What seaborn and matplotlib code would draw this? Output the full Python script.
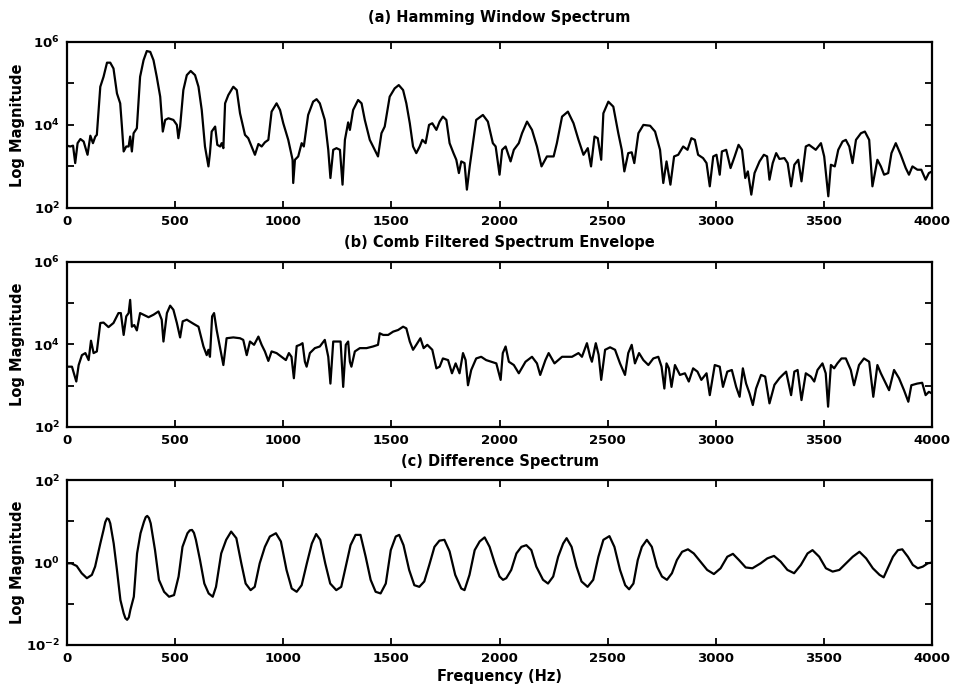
import numpy as np
import pandas as pd
import matplotlib
matplotlib.use("Agg")
import matplotlib.pyplot as plt
import seaborn as sns

# ---- (a) Hamming window spectrum: frequency (Hz) and log10 magnitude ----
a_freq = [0, 15, 28, 38, 49, 62, 77, 95, 108, 120, 131, 138, 154, 169, 185, 200, 215, 231, 246, 254,
          262, 274, 285, 292, 300, 308, 323, 338, 354, 369, 385, 400, 415, 431, 443, 454, 469, 492, 508,
          515, 523, 538, 554, 572, 592, 608, 623, 638, 654, 661, 669, 685, 695, 708, 715, 723, 731, 746,
          769, 785, 800, 823, 838, 869, 885, 900, 915, 931, 946, 969, 985, 1000, 1023, 1043, 1046, 1054,
          1069, 1085, 1095, 1115, 1138, 1154, 1169, 1192, 1208, 1218, 1231, 1246, 1262, 1274, 1285, 1300,
          1308, 1323, 1346, 1362, 1377, 1400, 1423, 1438, 1454, 1469, 1492, 1515, 1534, 1554, 1569, 1585,
          1600, 1615, 1631, 1643, 1658, 1674, 1689, 1708, 1723, 1738, 1754, 1769, 1787, 1800, 1812, 1823,
          1838, 1849, 1862, 1877, 1892, 1923, 1946, 1969, 1982, 2000, 2012, 2028, 2051, 2066, 2089, 2104,
          2127, 2150, 2173, 2194, 2219, 2250, 2265, 2289, 2316, 2342, 2365, 2388, 2408, 2423, 2439, 2454,
          2470, 2480, 2503, 2526, 2549, 2565, 2577, 2595, 2611, 2623, 2642, 2665, 2696, 2719, 2742, 2757,
          2772, 2790, 2807, 2826, 2849, 2869, 2887, 2903, 2918, 2941, 2957, 2972, 2988, 3003, 3018, 3028,
          3048, 3068, 3087, 3105, 3121, 3136, 3148, 3164, 3179, 3202, 3222, 3237, 3248, 3263, 3279, 3294,
          3317, 3332, 3348, 3363, 3381, 3396, 3416, 3431, 3462, 3486, 3501, 3520, 3532, 3550, 3566, 3586,
          3601, 3617, 3632, 3648, 3671, 3689, 3709, 3724, 3747, 3763, 3778, 3797, 3812, 3832, 3855, 3878,
          3893, 3909, 3932, 3950, 3970, 3985, 4000]
a_logmag = [3.50, 3.48, 3.50, 3.08, 3.56, 3.66, 3.60, 3.28, 3.74, 3.56, 3.72, 3.76, 4.92, 5.16, 5.50, 5.50,
            5.36, 4.76, 4.52, 3.96, 3.36, 3.48, 3.48, 3.72, 3.36, 3.80, 3.92, 5.16, 5.56, 5.78, 5.76, 5.56,
            5.16, 4.68, 3.84, 4.12, 4.16, 4.12, 4.00, 3.68, 3.96, 4.84, 5.20, 5.30, 5.20, 4.92, 4.36, 3.48,
            3.00, 3.32, 3.84, 3.96, 3.52, 3.48, 3.56, 3.44, 4.52, 4.72, 4.92, 4.84, 4.28, 3.76, 3.68, 3.28,
            3.54, 3.48, 3.58, 3.64, 4.32, 4.52, 4.36, 4.04, 3.64, 3.16, 2.60, 3.16, 3.24, 3.56, 3.48, 4.24,
            4.56, 4.62, 4.52, 4.12, 3.40, 2.72, 3.40, 3.44, 3.40, 2.56, 3.64, 4.06, 3.88, 4.36, 4.60, 4.52,
            4.12, 3.64, 3.40, 3.24, 3.80, 3.96, 4.68, 4.88, 4.96, 4.84, 4.52, 4.04, 3.48, 3.32, 3.48, 3.64,
            3.56, 4.00, 4.04, 3.88, 4.08, 4.20, 4.12, 3.56, 3.32, 3.16, 2.84, 3.12, 3.08, 2.44, 3.00, 3.56,
            4.12, 4.24, 4.08, 3.56, 3.48, 2.80, 3.40, 3.48, 3.12, 3.40, 3.56, 3.80, 4.08, 3.88, 3.48, 3.00,
            3.24, 3.24, 3.56, 4.20, 4.32, 4.04, 3.64, 3.28, 3.44, 3.00, 3.72, 3.68, 3.16, 4.28, 4.56, 4.44,
            3.80, 3.40, 2.88, 3.32, 3.34, 3.08, 3.80, 4.00, 3.98, 3.84, 3.40, 2.60, 3.12, 2.56, 3.24, 3.28,
            3.48, 3.40, 3.68, 3.64, 3.28, 3.20, 3.08, 2.52, 3.24, 3.28, 2.80, 3.36, 3.40, 2.96, 3.24, 3.52,
            3.40, 2.72, 2.88, 2.32, 2.84, 3.12, 3.28, 3.24, 2.68, 3.08, 3.32, 3.18, 3.20, 3.08, 2.52, 3.04,
            3.16, 2.64, 3.48, 3.52, 3.40, 3.56, 3.24, 2.28, 3.04, 3.00, 3.40, 3.60, 3.64, 3.48, 3.08, 3.64,
            3.80, 3.84, 3.64, 2.52, 3.16, 3.00, 2.80, 2.84, 3.32, 3.56, 3.28, 2.96, 2.80, 3.00, 2.92, 2.92,
            2.68, 2.84, 2.88]

# ---- (b) comb filtered spectrum envelope ----
b_freq = [0, 23, 43, 54, 69, 85, 100, 111, 123, 138, 154, 169, 192, 215, 238, 249, 262, 274, 285, 292,
          300, 311, 323, 338, 354, 377, 400, 423, 438, 446, 462, 477, 492, 508, 523, 535, 554, 585, 608,
          631, 646, 654, 661, 671, 680, 692, 708, 723, 738, 769, 800, 815, 831, 846, 865, 885, 900, 915,
          931, 946, 969, 992, 1012, 1026, 1038, 1049, 1062, 1077, 1089, 1100, 1108, 1123, 1146, 1169, 1192,
          1208, 1218, 1231, 1254, 1265, 1277, 1289, 1300, 1308, 1315, 1331, 1354, 1385, 1415, 1438, 1446,
          1462, 1485, 1508, 1531, 1554, 1569, 1585, 1600, 1615, 1634, 1649, 1666, 1689, 1708, 1723, 1738,
          1762, 1780, 1797, 1815, 1831, 1843, 1854, 1869, 1892, 1915, 1938, 1961, 1985, 2005, 2015, 2028,
          2043, 2066, 2089, 2120, 2150, 2173, 2188, 2212, 2227, 2254, 2289, 2335, 2365, 2381, 2404, 2419,
          2427, 2445, 2458, 2470, 2488, 2511, 2534, 2557, 2580, 2595, 2611, 2626, 2645, 2665, 2688, 2711,
          2734, 2749, 2762, 2772, 2783, 2795, 2811, 2834, 2857, 2875, 2895, 2915, 2933, 2957, 2972, 2995,
          3018, 3033, 3053, 3074, 3094, 3110, 3125, 3140, 3156, 3171, 3186, 3209, 3228, 3248, 3271, 3294,
          3309, 3325, 3348, 3363, 3378, 3396, 3416, 3439, 3455, 3470, 3493, 3508, 3519, 3532, 3547, 3562,
          3581, 3601, 3624, 3639, 3662, 3685, 3709, 3728, 3747, 3763, 3786, 3801, 3824, 3847, 3870, 3890,
          3904, 3931, 3954, 3970, 3985, 4000]
b_logmag = [3.46, 3.46, 3.10, 3.50, 3.74, 3.79, 3.62, 4.09, 3.79, 3.83, 4.52, 4.53, 4.42, 4.52, 4.76, 4.76,
            4.23, 4.68, 4.76, 5.08, 4.43, 4.47, 4.34, 4.76, 4.72, 4.66, 4.72, 4.80, 4.60, 4.07, 4.76, 4.94,
            4.84, 4.52, 4.17, 4.56, 4.60, 4.50, 4.43, 3.95, 3.74, 3.87, 3.70, 4.68, 4.76, 4.35, 3.91, 3.50,
            4.15, 4.17, 4.15, 4.11, 3.74, 4.07, 3.99, 4.19, 3.99, 3.83, 3.60, 3.83, 3.79, 3.70, 3.62, 3.79,
            3.70, 3.18, 3.96, 3.99, 4.03, 3.58, 3.46, 3.79, 3.91, 3.95, 4.11, 3.70, 3.05, 4.07, 4.07, 4.07,
            2.97, 3.99, 4.07, 3.58, 3.46, 3.83, 3.91, 3.91, 3.95, 3.99, 4.27, 4.23, 4.23, 4.31, 4.35, 4.43,
            4.39, 4.07, 3.87, 3.99, 4.15, 3.91, 3.99, 3.87, 3.42, 3.46, 3.66, 3.62, 3.30, 3.54, 3.30, 3.79,
            3.62, 3.01, 3.38, 3.66, 3.70, 3.62, 3.58, 3.54, 3.14, 3.79, 3.95, 3.58, 3.50, 3.30, 3.58, 3.70,
            3.54, 3.26, 3.62, 3.79, 3.54, 3.70, 3.70, 3.79, 3.70, 4.03, 3.70, 3.58, 4.03, 3.75, 3.14, 3.87,
            3.93, 3.87, 3.54, 3.26, 3.79, 3.99, 3.54, 3.79, 3.62, 3.50, 3.66, 3.70, 3.46, 2.93, 3.54, 3.42,
            2.97, 3.50, 3.26, 3.30, 3.10, 3.42, 3.34, 3.14, 3.30, 2.77, 3.50, 3.46, 2.97, 3.34, 3.38, 2.97,
            2.73, 3.42, 3.05, 2.81, 2.53, 2.93, 3.26, 3.22, 2.57, 3.02, 3.18, 3.26, 3.34, 2.77, 3.34, 3.38,
            2.65, 3.30, 3.22, 3.10, 3.38, 3.54, 3.30, 2.49, 3.50, 3.42, 3.54, 3.66, 3.66, 3.38, 3.01, 3.50,
            3.66, 3.58, 2.73, 3.50, 3.30, 3.05, 2.89, 3.38, 3.18, 2.89, 2.61, 3.01, 3.05, 3.07, 2.77, 2.85,
            2.81]

# ---- (c) difference spectrum ----
c_freq = [0, 20, 45, 68, 92, 115, 130, 154, 169, 177, 185, 193, 200, 216, 231, 247, 262, 270, 278, 286,
          293, 309, 324, 340, 356, 364, 371, 379, 387, 407, 425, 449, 472, 495, 516, 534, 557, 568, 578,
          587, 596, 615, 635, 655, 674, 689, 713, 736, 759, 783, 806, 826, 849, 868, 891, 915, 938, 966,
          989, 1015, 1039, 1062, 1085, 1109, 1132, 1152, 1171, 1194, 1217, 1245, 1268, 1292, 1311, 1334,
          1357, 1381, 1404, 1427, 1450, 1474, 1497, 1520, 1536, 1556, 1582, 1606, 1629, 1652, 1675, 1699,
          1722, 1745, 1769, 1795, 1823, 1838, 1861, 1885, 1908, 1931, 1954, 1978, 2000, 2016, 2031, 2054,
          2078, 2101, 2124, 2147, 2170, 2201, 2224, 2248, 2271, 2294, 2310, 2333, 2356, 2379, 2407, 2433,
          2457, 2480, 2508, 2531, 2557, 2581, 2599, 2619, 2639, 2658, 2681, 2704, 2728, 2751, 2774, 2797,
          2820, 2844, 2871, 2898, 2929, 2960, 2991, 3022, 3053, 3079, 3107, 3138, 3169, 3207, 3238, 3269,
          3300, 3331, 3362, 3393, 3424, 3447, 3478, 3509, 3540, 3571, 3602, 3633, 3664, 3695, 3726, 3757,
          3776, 3795, 3819, 3842, 3862, 3888, 3911, 3934, 3957, 3980, 4000]
c_logmag = [-0.02, -0.02, -0.085, -0.26, -0.38, -0.30, -0.10, 0.46, 0.79, 0.98, 1.07, 1.05, 0.95, 0.46,
            -0.18, -0.91, -1.23, -1.35, -1.39, -1.33, -1.15, -0.83, 0.22, 0.71, 0.99, 1.10, 1.13, 1.08,
            0.95, 0.30, -0.42, -0.71, -0.83, -0.79, -0.34, 0.38, 0.71, 0.78, 0.79, 0.72, 0.55, 0.06, -0.51,
            -0.75, -0.83, -0.59, 0.22, 0.55, 0.75, 0.59, -0.02, -0.51, -0.67, -0.59, -0.02, 0.38, 0.63,
            0.71, 0.51, -0.18, -0.63, -0.71, -0.55, -0.02, 0.46, 0.69, 0.55, -0.02, -0.51, -0.67, -0.59,
            -0.02, 0.42, 0.67, 0.67, 0.14, -0.42, -0.71, -0.75, -0.51, 0.30, 0.63, 0.67, 0.42, -0.18, -0.55,
            -0.59, -0.46, -0.06, 0.38, 0.53, 0.55, 0.27, -0.30, -0.63, -0.67, -0.30, 0.30, 0.51, 0.61, 0.38,
            -0.02, -0.34, -0.42, -0.38, -0.18, 0.22, 0.38, 0.42, 0.30, -0.10, -0.42, -0.51, -0.34, 0.14,
            0.46, 0.59, 0.38, -0.10, -0.46, -0.59, -0.42, 0.14, 0.55, 0.64, 0.38, -0.18, -0.55, -0.65, -0.51,
            0.06, 0.38, 0.55, 0.38, -0.10, -0.34, -0.42, -0.26, 0.06, 0.26, 0.32, 0.22, 0.02, -0.18, -0.28,
            -0.14, 0.14, 0.21, 0.06, -0.12, -0.14, -0.02, 0.10, 0.16, 0.02, -0.18, -0.26, -0.06, 0.22, 0.30,
            0.14, -0.14, -0.22, -0.18, -0.02, 0.14, 0.26, 0.10, -0.14, -0.30, -0.36, -0.14, 0.14, 0.30,
            0.32, 0.14, -0.06, -0.14, -0.10, -0.02, 0.00]

titles = ["(a) Hamming Window Spectrum",
          "(b) Comb Filtered Spectrum Envelope",
          "(c) Difference Spectrum"]
x_ticks = [0, 500, 1000, 1500, 2000, 2500, 3000, 3500, 4000]
y_decades = [(2, 6), (2, 6), (-2, 2)]

sns.set_theme(style="ticks")
plt.rcParams["font.family"] = ["DejaVu Sans"]
plt.rcParams["font.weight"] = "bold"
plt.rcParams["mathtext.default"] = "bf"
plt.rcParams["text.color"] = "black"
plt.rcParams["axes.labelcolor"] = "black"
plt.rcParams["xtick.color"] = "black"
plt.rcParams["ytick.color"] = "black"

fig = plt.figure(figsize=(9.57, 6.93), dpi=100)
positions = [[0.070, 0.700, 0.904, 0.2395],
             [0.070, 0.384, 0.904, 0.238],
             [0.070, 0.0693, 0.904, 0.238]]
title_pads = [14, 11, 10]

series = [(a_freq, a_logmag), (b_freq, b_logmag), (c_freq, c_logmag)]

for i, (pos, (f, lm), title, (lo, hi)) in enumerate(zip(positions, series, titles, y_decades)):
    ax = fig.add_axes(pos)
    df = pd.DataFrame({"Frequency": f, "Magnitude": 10.0 ** np.asarray(lm)})
    sns.lineplot(data=df, x="Frequency", y="Magnitude", ax=ax, color="black",
                 linewidth=1.6, estimator=None, sort=False)
    ax.lines[0].set_solid_joinstyle("round")
    ax.set_yscale("log")
    ax.set_xlim(0, 4000)
    ax.set_ylim(10.0 ** lo, 10.0 ** hi)
    ax.set_xticks(x_ticks)
    ax.set_xticklabels([str(t) for t in x_ticks])
    decs = list(range(lo, hi + 1))
    ax.set_yticks([10.0 ** d for d in decs])
    ax.set_yticklabels([f"$10^{{{d}}}$" if (d - lo) % 2 == 0 else "" for d in decs])
    ax.minorticks_off()
    ax.tick_params(direction="in", length=5, width=1.3, top=True, right=True,
                   labelsize=9.5, pad=5, colors="black", labelcolor="black")
    for s in ax.spines.values():
        s.set_linewidth(1.6)
        s.set_color("black")
    ax.set_ylabel("Log Magnitude", fontsize=10.5, fontweight="bold", color="black")
    ax.yaxis.set_label_coords(-0.049, 0.5)
    ax.set_xlabel("Frequency (Hz)" if i == 2 else "", fontsize=10.5, fontweight="bold",
                  labelpad=3, color="black")
    ax.set_title(title, fontsize=10.5, fontweight="bold", pad=title_pads[i], color="black")

fig.savefig("out.png", dpi=100)
